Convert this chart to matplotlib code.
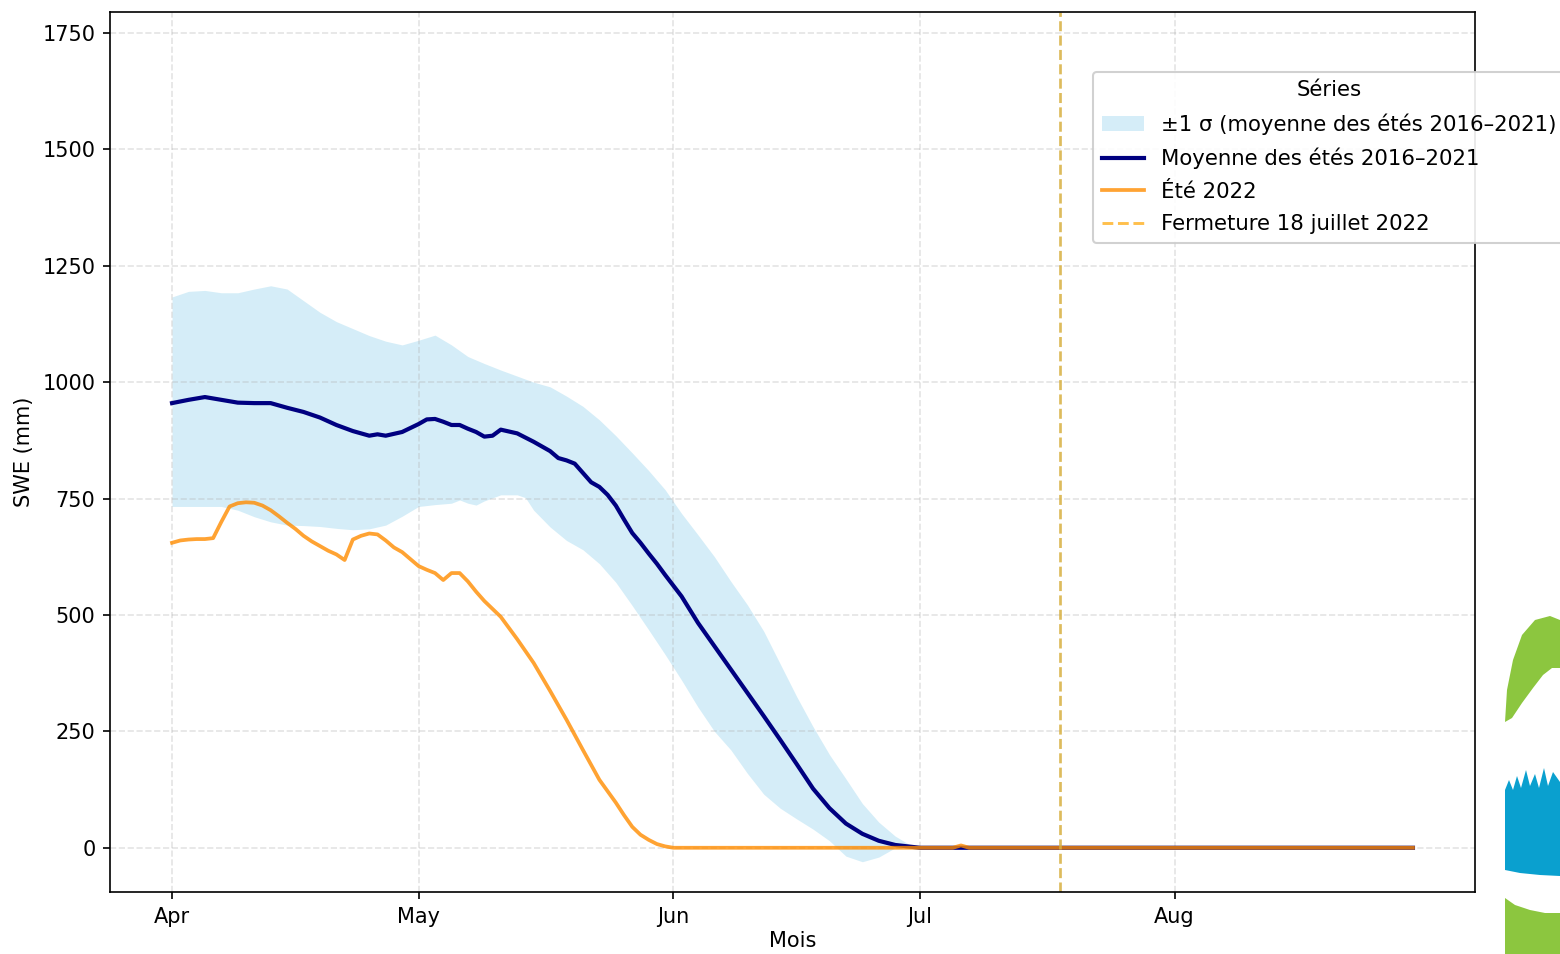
import numpy as np
import pandas as pd
import matplotlib
matplotlib.use("Agg")
import matplotlib.pyplot as plt
from matplotlib.patches import Patch, Polygon
from matplotlib.lines import Line2D

# ---------------- data ----------------
start_date = "2022-04-01"

mean_days = [0, 2, 4, 6, 8, 10, 12, 14, 16, 18, 20, 22, 24, 25, 26, 28, 30, 31, 32, 33,
             34, 35, 36, 37, 38, 39, 40, 42, 44, 46, 47, 48, 49, 50, 51, 52, 53, 54, 55,
             56, 57, 58, 59, 60, 62, 64, 66, 68, 70, 72, 74, 76, 78, 80, 82, 84, 86, 88,
             90, 91, 120, 151]
mean_vals = [955, 962, 968, 962, 956, 955, 955, 945, 936, 924, 908, 895, 885, 888, 885,
             893, 910, 920, 921, 915, 908, 908, 900, 893, 883, 885, 898, 890, 872, 852,
             837, 832, 825, 805, 785, 775, 758, 735, 705, 676, 655, 632, 610, 586, 540,
             483, 433, 383, 333, 283, 232, 180, 127, 85, 52, 30, 15, 6, 2, 0, 0, 0]

upper_days = [0, 2, 4, 6, 8, 10, 12, 14, 16, 18, 20, 22, 24, 26, 28, 30, 32, 34, 36, 38,
              40, 42, 44, 46, 48, 50, 52, 54, 56, 58, 60, 62, 64, 66, 68, 70, 72, 74, 76,
              78, 80, 82, 84, 86, 88, 90, 91, 151]
upper_vals = [1183, 1195, 1197, 1192, 1192, 1200, 1207, 1200, 1175, 1150, 1130, 1115,
              1100, 1088, 1080, 1090, 1101, 1080, 1055, 1040, 1026, 1013, 1000, 990, 970,
              948, 919, 885, 848, 810, 769, 718, 672, 625, 572, 522, 465, 395, 325, 260,
              200, 148, 95, 55, 25, 4, 0, 0]

lower_days = [0, 4, 6, 8, 10, 12, 14, 16, 18, 20, 22, 24, 26, 28, 30, 32, 34, 35, 36, 37,
              38, 40, 42, 43, 44, 46, 48, 50, 52, 54, 56, 58, 60, 62, 64, 66, 68, 70, 72,
              74, 76, 78, 80, 82, 84, 86, 88, 90, 91, 151]
lower_vals = [733, 733, 733, 725, 711, 700, 693, 692, 690, 686, 683, 685, 693, 712, 733,
              737, 740, 747, 740, 736, 745, 758, 758, 752, 725, 689, 660, 640, 610, 570,
              520, 468, 415, 360, 302, 250, 210, 160, 115, 85, 62, 40, 15, -18, -30, -20,
              0, 0, 0, 0]

y2022_days = [0, 1, 2, 3, 4, 5, 6, 7, 8, 9, 10, 11, 12, 13, 14, 15, 16, 17, 18, 19, 20, 21,
              22, 23, 24, 25, 26, 27, 28, 29, 30, 31, 32, 33, 34, 35, 36, 37, 38, 40, 42,
              44, 46, 48, 50, 52, 54, 55, 56, 57, 58, 59, 60, 61, 95, 96, 97, 151]
y2022_vals = [655, 660, 662, 663, 663, 665, 700, 733, 740, 742, 741, 735, 725, 712, 698,
              685, 670, 658, 648, 638, 630, 618, 662, 670, 675, 673, 660, 645, 635, 620,
              605, 597, 590, 575, 590, 590, 572, 550, 530, 496, 448, 397, 337, 275, 210,
              146, 97, 70, 45, 28, 17, 8, 3, 0, 0, 5, 0, 0]

closure_date = "2022-07-18"
month_labels = ["Apr", "May", "Jun", "Jul", "Aug"]
y_ticks = [0, 250, 500, 750, 1000, 1250, 1500, 1750]

# ---------------- figure ----------------
plt.rcParams["font.family"] = ["DejaVu Sans"]
plt.rcParams["font.size"] = 10

fig = plt.figure(figsize=(10.4, 6.36), dpi=150)
ax = fig.add_axes([110 / 1560, 62 / 954, 1365 / 1560, 880 / 954])

t0 = pd.Timestamp(start_date)
def to_dates(days):
    return [t0 + pd.Timedelta(days=int(d)) for d in days]

band_days = sorted(set(upper_days) | set(lower_days))
up_i = np.interp(band_days, upper_days, upper_vals)
lo_i = np.interp(band_days, lower_days, lower_vals)

band_color = "skyblue"
ax.fill_between(to_dates(band_days), lo_i, up_i, color=band_color, alpha=0.35,
                linewidth=0)
ax.plot(to_dates(mean_days), mean_vals, color="navy", lw=2.0)
ax.plot(to_dates(y2022_days), y2022_vals, color="darkorange", alpha=0.8, lw=1.8)
vline_color = "#d8b040"
ax.axvline(pd.Timestamp(closure_date), color=vline_color, alpha=0.85, lw=1.3, ls="--")

ax.set_ylim(-95, 1795)
ax.set_yticks(y_ticks)
month_ticks = [pd.Timestamp(f"2022-{m:02d}-01") for m in range(4, 9)]
ax.set_xticks(month_ticks)
ax.set_xticklabels(month_labels)
ax.set_xlabel("Mois", labelpad=2)
ax.set_ylabel("SWE (mm)")
ax.grid(True, ls="--", color="#b0b0b0", alpha=0.35, lw=0.8)

handles = [
    Patch(facecolor=band_color, alpha=0.35, edgecolor="none"),
    Line2D([], [], color="navy", lw=2.0),
    Line2D([], [], color="darkorange", alpha=0.8, lw=1.8),
    Line2D([], [], color="orange", alpha=0.7, lw=1.4, ls="--"),
]
labels = ["±1 σ (moyenne des étés 2016–2021)", "Moyenne des étés 2016–2021",
          "Été 2022", "Fermeture 18 juillet 2022"]
ax.legend(handles, labels, title="Séries", loc="upper left",
          bbox_to_anchor=(1093 / 1560, 1 - 72 / 954), bbox_transform=fig.transFigure,
          borderaxespad=0, framealpha=0.9, fontsize=10.2, title_fontsize=10.2,
          labelspacing=0.6)

# ---------------- decorative logo fragment at the right edge ----------------
def fig_poly(pts, color):
    p = Polygon([(x / 1560, 1 - y / 954) for x, y in pts], closed=True,
                transform=fig.transFigure, facecolor=color, edgecolor="none", zorder=5)
    fig.add_artist(p)

green = "#8cc63f"
blue = "#0aa0cf"
fig_poly([(1505, 722), (1507, 690), (1513, 660), (1522, 635), (1535, 620), (1550, 616),
          (1560, 620), (1560, 668), (1552, 668), (1543, 675), (1533, 688), (1522, 703),
          (1512, 718)], green)
fig_poly([(1505, 790), (1509, 780), (1513, 790), (1517, 776), (1521, 788), (1526, 770),
          (1530, 786), (1535, 774), (1539, 788), (1544, 768), (1548, 786), (1553, 772),
          (1560, 782), (1560, 876), (1540, 875), (1520, 873), (1505, 870)], blue)
fig_poly([(1505, 898), (1515, 905), (1530, 910), (1545, 913), (1560, 913), (1560, 954),
          (1505, 954)], green)

fig.savefig("out.png", dpi=150)
